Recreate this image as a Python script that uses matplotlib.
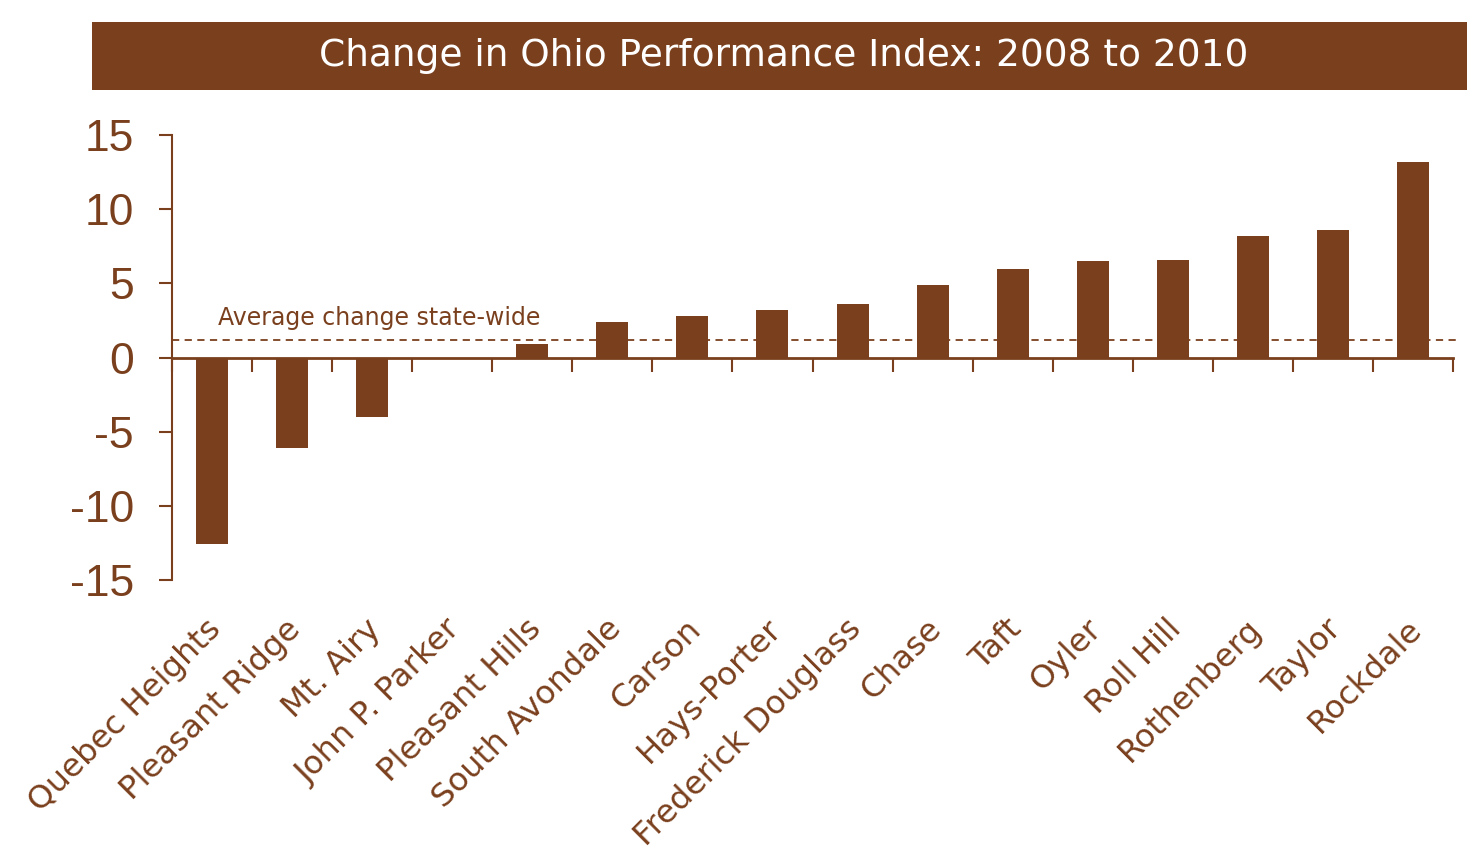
import matplotlib
matplotlib.use("Agg")
import matplotlib.pyplot as plt
import matplotlib.transforms as mtransforms
from matplotlib.patches import Rectangle

schools = ["Quebec Heights", "Pleasant Ridge", "Mt. Airy", "John P. Parker",
           "Pleasant Hills", "South Avondale", "Carson", "Hays-Porter",
           "Frederick Douglass", "Chase", "Taft", "Oyler", "Roll Hill",
           "Rothenberg", "Taylor", "Rockdale"]
changes = [-12.6, -6.1, -4.0, -0.1, 0.9, 2.4, 2.8, 3.2, 3.6, 4.9, 6.0, 6.5, 6.6,
           8.2, 8.6, 13.2]
state_avg = 1.2
yticks = [15, 10, 5, 0, -5, -10, -15]
title = "Change in Ohio Performance Index: 2008 to 2010"
avg_label = "Average change state-wide"

BROWN = "#7A401E"
FONT = ["DejaVu Sans"]
NUMFONT = ["Liberation Sans Narrow", "Liberation Sans", "DejaVu Sans"]

fig = plt.figure(figsize=(14.67, 8.5), dpi=100)
fig.patch.set_facecolor("white")

# title banner
fig.patches.append(Rectangle((92 / 1467, 1 - 90 / 850), (1467 - 92) / 1467, 68 / 850,
                             transform=fig.transFigure, facecolor=BROWN,
                             edgecolor="none"))
fig.text((92 + 1467) / 2 / 1467 + 0.003, 1 - 56 / 850, title, color="white",
         fontsize=27, ha="center", va="center", family=FONT)

ax = fig.add_axes([172 / 1467, 1 - 580 / 850, (1453 - 172) / 1467, 445 / 850])
x = list(range(len(schools)))
ax.bar(x, changes, width=0.4, color=BROWN, zorder=2)
ax.set_xlim(-0.5, len(schools) - 0.5)
ax.set_ylim(-15, 15)

ax.axhline(state_avg, color=BROWN, lw=1.3, ls=(0, (4, 3)), zorder=1,
           xmin=0, xmax=1.006, clip_on=False)
ax.text(0.07, 2.65, avg_label, color=BROWN, fontsize=17, va="center",
        ha="left", family=FONT)

for s in ["top", "right"]:
    ax.spines[s].set_visible(False)
ax.spines["bottom"].set_position(("data", 0))
ax.spines["bottom"].set_color(BROWN)
ax.spines["left"].set_color(BROWN)
ax.spines["bottom"].set_linewidth(2.0)
ax.spines["left"].set_linewidth(1.5)

ax.set_yticks(yticks)
ax.set_yticklabels([str(v) for v in yticks], fontsize=32, color=BROWN,
                   family=NUMFONT)
ax.tick_params(axis="y", direction="out", length=9.5, width=1.5, color=BROWN,
               pad=18)

ax.set_xticks([i - 0.5 for i in range(len(schools) + 1)])
ax.set_xticklabels([])
ax.tick_params(axis="x", direction="out", length=10, width=1.5, color=BROWN)

trans = mtransforms.blended_transform_factory(ax.transData, ax.transAxes)
for i, name in enumerate(schools):
    ax.text(i + 0.05, -0.1, name, transform=trans, rotation=45,
            rotation_mode="anchor", ha="right", va="center", fontsize=23.3,
            color=BROWN, family=FONT)

fig.savefig("out.png", dpi=100, facecolor="white")
